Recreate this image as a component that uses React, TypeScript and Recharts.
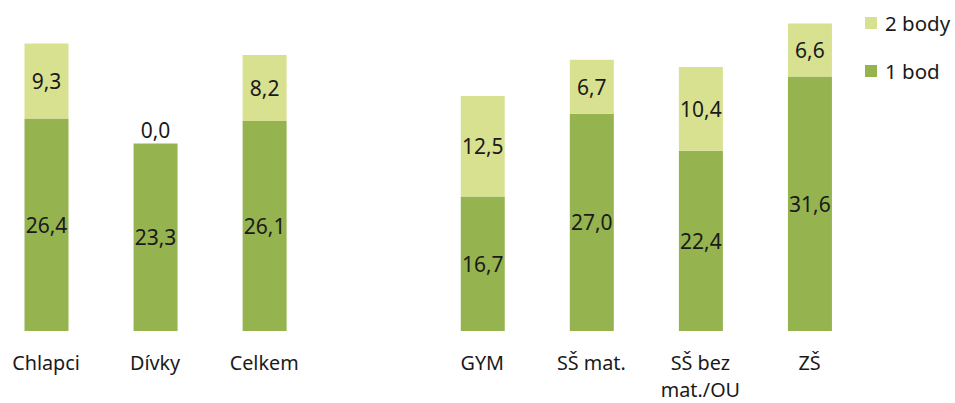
import React from "react";
import { BarChart, Bar, XAxis, YAxis, LabelList } from "recharts";

const categories = ["Chlapci", "Dívky", "Celkem", " ", "GYM", "SŠ mat.", "SŠ bez mat./OU", "ZŠ"];
const onePoint = [26.4, 23.3, 26.1, null, 16.7, 27.0, 22.4, 31.6];
const twoPoints = [9.3, 0.0, 8.2, null, 12.5, 6.7, 10.4, 6.6];
const tickLines: Record<string, string[]> = {
  "SŠ bez mat./OU": ["SŠ bez", "mat./OU"],
};
const legendItems = ["2 body", "1 bod"];

const data = categories.map((c, i) => ({ name: c, one: onePoint[i], two: twoPoints[i] }));

const DARK = "#95b34f";
const LIGHT = "#d8e190";
const FONT = "'Noto Sans', 'Open Sans', sans-serif";
const TXT = "#1a1a1a";

const fmt = (v: any) => (v == null ? "" : Number(v).toFixed(1).replace(".", ","));

const OneLabel = (props: any) => {
  const { x, y, width, height, value, index } = props;
  if (value == null) return null;
  const cx = x + width / 2;
  const two = twoPoints[index];
  return (
    <g>
      <text x={cx} y={y + height / 2} textAnchor="middle" dominantBaseline="central" fontFamily={FONT} fontSize={21} fill={TXT}>
        {fmt(value)}
      </text>
      {two === 0 ? (
        <text x={cx} y={y - 13} textAnchor="middle" dominantBaseline="central" fontFamily={FONT} fontSize={21} fill={TXT}>
          {fmt(two)}
        </text>
      ) : null}
    </g>
  );
};

const TwoLabel = (props: any) => {
  const { x, y, width, height, value } = props;
  if (value == null || value === 0 || !height) return null;
  return (
    <text x={x + width / 2} y={y + height / 2} textAnchor="middle" dominantBaseline="central" fontFamily={FONT} fontSize={21} fill={TXT}>
      {fmt(value)}
    </text>
  );
};

const Tick = (props: any) => {
  const { x, payload } = props;
  const lines = tickLines[payload.value] || [payload.value];
  return (
    <g>
      {lines.map((l, i) => (
        <text key={i} x={x} y={370 + i * 27} textAnchor="middle" fontFamily={FONT} fontSize={19.8} fill={TXT}>
          {l}
        </text>
      ))}
    </g>
  );
};

export default function App() {
  const colors = [LIGHT, DARK];
  return (
    <div style={{ position: "absolute", left: 0, top: 0, width: 955, height: 403, background: "#fff", overflow: "hidden" }}>
      <BarChart
        width={955}
        height={403}
        data={data}
        margin={{ top: 9, right: 91, bottom: 0, left: -8.5 }}
      >
        <XAxis dataKey="name" axisLine={false} tickLine={false} tick={<Tick />} interval={0} height={72} />
        <YAxis hide domain={[0, 40]} />
        <Bar dataKey="one" name="1 bod" stackId="a" fill={DARK} barSize={44} isAnimationActive={false}>
          <LabelList dataKey="one" content={<OneLabel />} />
        </Bar>
        <Bar dataKey="two" name="2 body" stackId="a" fill={LIGHT} barSize={44} isAnimationActive={false}>
          <LabelList dataKey="two" content={<TwoLabel />} />
        </Bar>
      </BarChart>
      <div style={{ position: "absolute", left: 865, top: 10, fontFamily: FONT, fontSize: 20.5, color: TXT }}>
        {legendItems.map((t, i) => (
          <div key={t} style={{ position: "absolute", left: 0, top: i * 48, height: 26, display: "flex", alignItems: "center" }}>
            <span style={{ display: "inline-block", width: 12, height: 12, background: colors[i], marginRight: 8 }} />
            <span style={{ whiteSpace: "nowrap", lineHeight: "26px" }}>{t}</span>
          </div>
        ))}
      </div>
    </div>
  );
}
